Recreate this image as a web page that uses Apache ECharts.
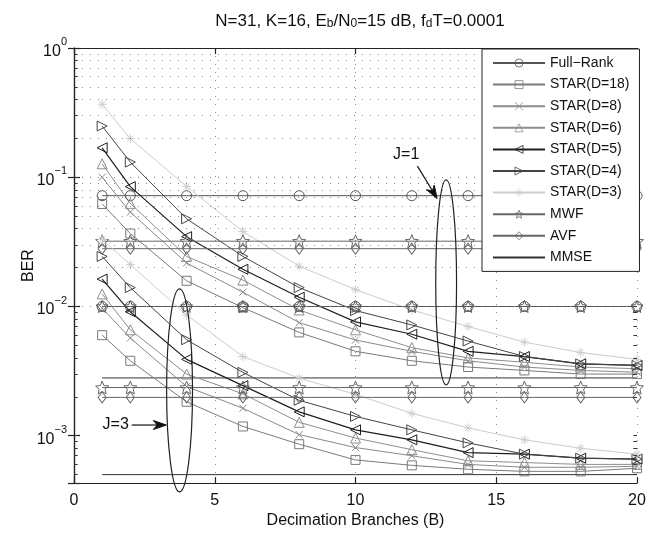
<!DOCTYPE html>
<html>
<head>
<meta charset="utf-8">
<script src="https://cdn.jsdelivr.net/npm/echarts@6/dist/echarts.min.js"></script>
<style>
  html, body { margin: 0; padding: 0; background: #fff; }
  #chart { width: 649px; height: 534px; }
</style>
</head>
<body>
<div id="chart"></div>
<script>
// decimation branches B
var branches = [1, 2, 4, 6, 8, 10, 12, 14, 16, 18, 20];

// J = 1
var fullRankJ1 = [0.072, 0.072, 0.072, 0.072, 0.072, 0.072, 0.072, 0.072, 0.072, 0.072, 0.072];
var star18J1 = [0.0621, 0.0367, 0.0158, 0.0098, 0.0063, 0.0045, 0.0038, 0.0034, 0.0032, 0.0030, 0.0030];
var star8J1 = [0.100, 0.0537, 0.0217, 0.0129, 0.0075, 0.0055, 0.0045, 0.0038, 0.0034, 0.0032, 0.0031];
var star6J1 = [0.127, 0.0628, 0.0244, 0.0160, 0.0094, 0.0066, 0.0048, 0.0040, 0.0037, 0.0034, 0.0033];
var star5J1 = [0.169, 0.0846, 0.0347, 0.0194, 0.0118, 0.0076, 0.0061, 0.0045, 0.0041, 0.0036, 0.0035];
var star4J1 = [0.249, 0.131, 0.0477, 0.0244, 0.0140, 0.0093, 0.0072, 0.0054, 0.0041, 0.0036, 0.0035];
var star3J1 = [0.367, 0.199, 0.085, 0.038, 0.0205, 0.0135, 0.0094, 0.0070, 0.0053, 0.0044, 0.0039];
var mwfJ1 = [0.032, 0.032, 0.032, 0.032, 0.032, 0.032, 0.032, 0.032, 0.032, 0.032, 0.032];
var avfJ1 = [0.028, 0.028, 0.028, 0.028, 0.028, 0.028, 0.028, 0.028, 0.028, 0.028, 0.028];
var mmseJ1 = [0.0028, 0.0028, 0.0028, 0.0028, 0.0028, 0.0028, 0.0028, 0.0028, 0.0028, 0.0028, 0.0028];

// J = 3
var fullRankJ3 = [0.0100, 0.0100, 0.0100, 0.0100, 0.0100, 0.0100, 0.0100, 0.0100, 0.0100, 0.0100, 0.0100];
var star18J3 = [0.0060, 0.0038, 0.00183, 0.00118, 0.00086, 0.00065, 0.00059, 0.00055, 0.00053, 0.00053, 0.00056];
var star8J3 = [0.0097, 0.0057, 0.0024, 0.00163, 0.00102, 0.00081, 0.00070, 0.00060, 0.00057, 0.00057, 0.00058];
var star6J3 = [0.0125, 0.0066, 0.0030, 0.00211, 0.00127, 0.00096, 0.00078, 0.00064, 0.00062, 0.00060, 0.00060];
var star5J3 = [0.0163, 0.0091, 0.0039, 0.00244, 0.00153, 0.00111, 0.00093, 0.00074, 0.00072, 0.00067, 0.00066];
var star4J3 = [0.0244, 0.0140, 0.00553, 0.00309, 0.00188, 0.00141, 0.00111, 0.00088, 0.00072, 0.00067, 0.00066];
var star3J3 = [0.033, 0.0211, 0.0086, 0.0041, 0.00279, 0.00209, 0.00149, 0.00115, 0.00093, 0.00080, 0.00072];
var mwfJ3 = [0.00236, 0.00236, 0.00236, 0.00236, 0.00236, 0.00236, 0.00236, 0.00236, 0.00236, 0.00236, 0.00236];
var avfJ3 = [0.00198, 0.00198, 0.00198, 0.00198, 0.00198, 0.00198, 0.00198, 0.00198, 0.00198, 0.00198, 0.00198];
var mmseJ3 = [0.0005, 0.0005, 0.0005, 0.0005, 0.0005, 0.0005, 0.0005, 0.0005, 0.0005, 0.0005, 0.0005];

// dotted grid / minor ticks of the log axis
var yMinorGrid = [0.0005, 0.0006, 0.0007, 0.0008, 0.0009, 0.001,
  0.002, 0.003, 0.004, 0.005, 0.006, 0.007, 0.008, 0.009, 0.01,
  0.02, 0.03, 0.04, 0.05, 0.06, 0.07, 0.08, 0.09, 0.1,
  0.2, 0.3, 0.4, 0.5, 0.6, 0.7, 0.8, 0.9];

var legendNames = ['Full\u2212Rank', 'STAR(D=18)', 'STAR(D=8)', 'STAR(D=6)', 'STAR(D=5)',
  'STAR(D=4)', 'STAR(D=3)', 'MWF', 'AVF', 'MMSE'];

var FONT = '"Liberation Sans", Arial, Helvetica, sans-serif';

var SYM = {
  circle: 'circle',
  square: 'rect',
  cross: 'path://M0,0L10,10M10,0L0,10',
  up: 'triangle',
  left: 'path://M0,5L10,0L10,10Z',
  right: 'path://M10,5L0,0L0,10Z',
  aster: 'path://M10,0L10,20M0,10L20,10M2.93,2.93L17.07,17.07M17.07,2.93L2.93,17.07',
  star: 'path://M10,0L12.65,6.36L19.51,6.91L14.28,11.39L15.88,18.09L10,14.5L4.12,18.09L5.72,11.39L0.49,6.91L7.35,6.36Z',
  diamond: 'path://M5,0L10,6L5,12L0,6Z'
};

function pairs (vals) {
  return branches.map(function (b, i) { return [b, vals[i]]; });
}

function line (name, vals, color, symbol, size, width) {
  return {
    name: name,
    type: 'line',
    data: pairs(vals),
    symbol: symbol || 'circle',
    symbolSize: size || 10,
    showSymbol: !!symbol,
    lineStyle: { color: color, width: width || 1 },
    itemStyle: {
      color: 'rgba(255,255,255,0)',
      borderColor: symbol ? color : 'rgba(255,255,255,0)',
      borderWidth: 1
    },
    emphasis: { disabled: true },
    animation: false,
    z: 3
  };
}

// short minor ticks on the left and right axes
var minorTicks = [];
yMinorGrid.forEach(function (v) {
  minorTicks.push([{ coord: [0, v] }, { coord: [0.13, v] }]);
  minorTicks.push([{ coord: [19.87, v] }, { coord: [20, v] }]);
});

var chart = echarts.init(document.getElementById('chart'), null, { renderer: 'canvas' });

var series = [
  {
    name: 'grid',
    type: 'line',
    data: [],
    silent: true,
    z: 1,
    markLine: {
      silent: true,
      symbol: 'none',
      animation: false,
      label: { show: false },
      lineStyle: { color: '#8c8c8c', width: 1, type: [1, 7] },
      data: yMinorGrid.map(function (v) { return { yAxis: v }; })
    }
  },
  {
    name: 'ticks',
    type: 'line',
    data: [],
    silent: true,
    z: 1,
    markLine: {
      silent: true,
      symbol: 'none',
      animation: false,
      label: { show: false },
      lineStyle: { color: '#333', width: 1, type: 'solid' },
      data: minorTicks
    }
  },
  line(legendNames[0], fullRankJ1, '#555', SYM.circle, 10),
  line(legendNames[1], star18J1, '#7a7a7a', SYM.square, 9),
  line(legendNames[2], star8J1, '#8a8a8a', SYM.cross, 7),
  line(legendNames[3], star6J1, '#8e8e8e', SYM.up, 10),
  line(legendNames[4], star5J1, '#1e1e1e', SYM.left, 10, 1.2),
  line(legendNames[5], star4J1, '#444', SYM.right, 10),
  line(legendNames[6], star3J1, '#cdcdcd', SYM.aster, 9),
  line(legendNames[7], mwfJ1, '#666', SYM.star, 13),
  line(legendNames[8], avfJ1, '#666', SYM.diamond, [8, 11]),
  line(legendNames[9], mmseJ1, '#333', null),

  line(legendNames[0], fullRankJ3, '#555', SYM.circle, 10),
  line('fr3star', fullRankJ3, '#555', SYM.star, 12),
  line(legendNames[1], star18J3, '#7a7a7a', SYM.square, 9),
  line(legendNames[2], star8J3, '#8a8a8a', SYM.cross, 7),
  line(legendNames[3], star6J3, '#8e8e8e', SYM.up, 10),
  line(legendNames[4], star5J3, '#1e1e1e', SYM.left, 10, 1.2),
  line(legendNames[5], star4J3, '#444', SYM.right, 10),
  line(legendNames[6], star3J3, '#cdcdcd', SYM.aster, 9),
  line(legendNames[7], mwfJ3, '#666', SYM.star, 13),
  line(legendNames[8], avfJ3, '#666', SYM.diamond, [8, 11]),
  line(legendNames[9], mmseJ3, '#333', null)
];

var axisLineStyle = { color: '#222', width: 1.2 };

var option = {
  backgroundColor: '#fff',
  animation: false,
  textStyle: { fontFamily: FONT },
  title: {
    text: 'N=31, K=16, E{sub|b}/N{sub|0}=15 dB, f{sub|d}T=0.0001',
    left: 355,
    textAlign: 'center',
    top: 8,
    textStyle: {
      fontFamily: FONT,
      fontSize: 17,
      fontWeight: 'normal',
      color: '#111',
      verticalAlign: 'top',
      padding: [0, 0, 5, 0],
      rich: {
        sub: { fontFamily: FONT, fontSize: 12, color: '#111', verticalAlign: 'bottom' }
      }
    }
  },
  grid: { left: 74, right: 12, top: 48, bottom: 43, containLabel: false },
  legend: {
    data: legendNames,
    orient: 'vertical',
    left: 482,
    top: 49,
    width: 155,
    backgroundColor: '#fff',
    borderColor: '#222',
    borderWidth: 1,
    borderRadius: 0,
    padding: [7, 10, 7, 10],
    itemWidth: 52,
    itemHeight: 10,
    itemGap: 7.6,
    itemStyle: { color: 'rgba(255,255,255,0)', borderWidth: 0.8 },
    textStyle: { fontFamily: FONT, fontSize: 14, color: '#111' },
    z: 10
  },
  xAxis: [
    {
      type: 'value',
      min: 0,
      max: 20,
      interval: 5,
      name: 'Decimation Branches (B)',
      nameLocation: 'middle',
      nameGap: 29,
      nameTextStyle: { fontFamily: FONT, fontSize: 16, color: '#111' },
      axisLine: { show: true, lineStyle: axisLineStyle },
      axisTick: { show: true, inside: true, length: 6, lineStyle: axisLineStyle },
      axisLabel: { fontFamily: FONT, fontSize: 16, color: '#111', margin: 9 },
      splitLine: { show: true, lineStyle: { color: '#8c8c8c', width: 1, type: [1, 7] } }
    },
    {
      type: 'value',
      position: 'top',
      min: 0,
      max: 20,
      interval: 5,
      axisLine: { show: true, lineStyle: axisLineStyle },
      axisTick: { show: true, inside: true, length: 6, lineStyle: axisLineStyle },
      axisLabel: { show: false },
      splitLine: { show: false }
    }
  ],
  yAxis: [
    {
      type: 'log',
      logBase: 10,
      min: 0.00043,
      max: 1,
      name: 'BER',
      nameLocation: 'middle',
      nameGap: 37,
      nameMoveOverlap: false,
      nameTextStyle: { fontFamily: FONT, fontSize: 16, color: '#111' },
      axisLine: { show: true, lineStyle: axisLineStyle },
      axisTick: { show: true, inside: true, length: 6, lineStyle: axisLineStyle },
      axisLabel: {
        margin: 7,
        color: '#111',
        formatter: function (v) {
          var e = Math.round(Math.log10(v));
          if (Math.abs(Math.log10(v) - e) > 1e-6) return '';
          return '{b|10}{s|' + (e === 0 ? '0' : '\u2212' + (-e)) + '}';
        },
        rich: {
          b: { fontFamily: FONT, fontSize: 16, color: '#111', verticalAlign: 'bottom', padding: [7, 0, 0, 0] },
          s: { fontFamily: FONT, fontSize: 11, color: '#111', verticalAlign: 'top' }
        }
      },
      splitLine: { show: false }
    },
    {
      type: 'log',
      logBase: 10,
      min: 0.00043,
      max: 1,
      position: 'right',
      axisLine: { show: true, lineStyle: axisLineStyle },
      axisTick: { show: true, inside: true, length: 6, lineStyle: axisLineStyle },
      axisLabel: { show: false },
      splitLine: { show: false }
    }
  ],
  series: series
};

chart.setOption(option);

// annotations (ellipses and arrows) placed in data coordinates
function px (b, v) {
  return chart.convertToPixel({ gridIndex: 0 }, [b, v]);
}

function ellipse (bCenter, bHalf, vTop, vBottom) {
  var top = px(bCenter, vTop);
  var bot = px(bCenter, vBottom);
  var side = px(bCenter + bHalf, vTop);
  return {
    type: 'ellipse',
    shape: { cx: top[0], cy: (top[1] + bot[1]) / 2, rx: side[0] - top[0], ry: (bot[1] - top[1]) / 2 },
    style: { fill: 'none', stroke: '#222', lineWidth: 1.2 },
    z: 20
  };
}

function arrow (from, to) {
  var a = px(from[0], from[1]);
  var b = px(to[0], to[1]);
  var dx = b[0] - a[0], dy = b[1] - a[1];
  var len = Math.sqrt(dx * dx + dy * dy);
  var ux = dx / len, uy = dy / len;
  var hl = 13, hw = 4.5;
  var base = [b[0] - ux * hl, b[1] - uy * hl];
  var notch = [b[0] - ux * hl * 0.7, b[1] - uy * hl * 0.7];
  return [
    {
      type: 'line',
      shape: { x1: a[0], y1: a[1], x2: notch[0], y2: notch[1] },
      style: { stroke: '#111', lineWidth: 1.2 },
      z: 20
    },
    {
      type: 'polygon',
      shape: { points: [b, [base[0] - uy * hw, base[1] + ux * hw], notch, [base[0] + uy * hw, base[1] - ux * hw]] },
      style: { fill: '#111', stroke: '#111', lineWidth: 1 },
      z: 20
    }
  ];
}

function label (text, b, v) {
  var p = px(b, v);
  return {
    type: 'text',
    x: p[0],
    y: p[1],
    style: { text: text, font: '16px ' + FONT, fill: '#111', align: 'center', verticalAlign: 'middle' },
    z: 20
  };
}

var graphics = [
  ellipse(3.75, 0.46, 0.0137, 0.000368),
  ellipse(13.22, 0.37, 0.0955, 0.00247),
  label('J=3', 1.48, 0.00121),
  label('J=1', 11.8, 0.151)
].concat(arrow([2.05, 0.00121], [3.28, 0.00121]))
 .concat(arrow([12.2, 0.122], [12.9, 0.0684]));

chart.setOption({ graphic: graphics });
</script>
</body>
</html>
